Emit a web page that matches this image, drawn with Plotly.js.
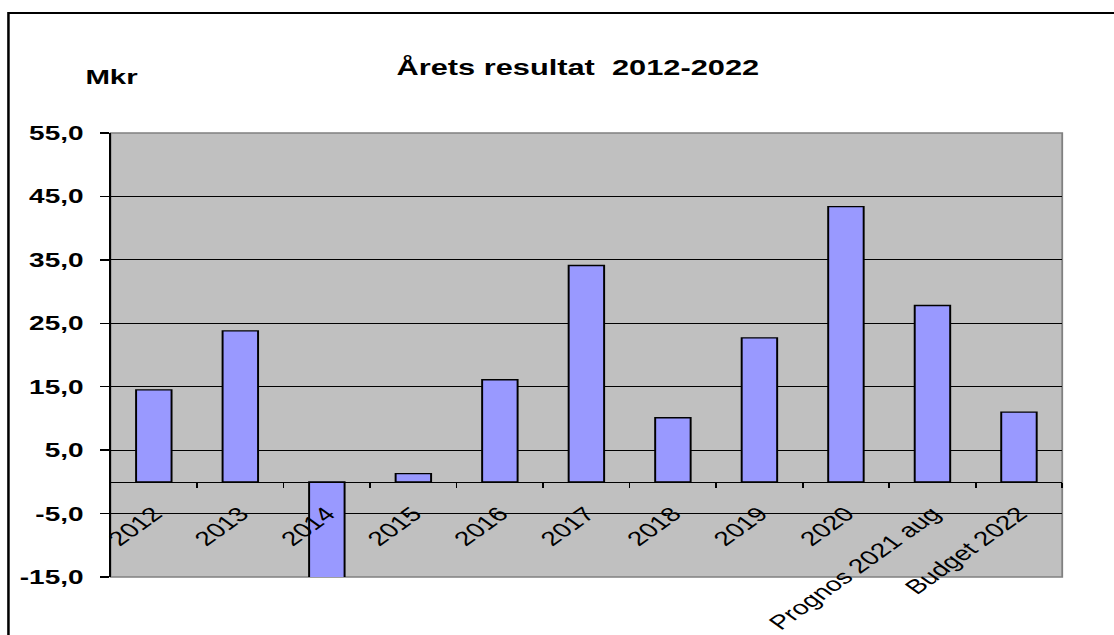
<!DOCTYPE html>
<html>
<head>
<meta charset="utf-8">
<script src="https://cdn.plot.ly/plotly-3.0.1.min.js"></script>
<style>
html,body{margin:0;padding:0;background:#fff;overflow:hidden;}
#wrap{width:1114px;height:635px;overflow:hidden;}
#chart{width:796px;height:635px;transform:scaleX(1.3995);transform-origin:0 0;}
</style>
</head>
<body>
<div id="wrap"><div id="chart"></div></div>
<script>
const categories = ["2012","2013","2014","2015","2016","2017","2018","2019","2020","Prognos 2021 aug","Budget 2022"];
const results = [14.5, 23.8, -19.0, 1.3, 16.1, 34.1, 10.1, 22.7, 43.4, 27.8, 11.0];
const yTickVals = [-15, -5, 5, 15, 25, 35, 45, 55];
const yTickText = ["-15,0", "-5,0", "5,0", "15,0", "25,0", "35,0", "45,0", "55,0"];
const yRange = [-15, 55];

const trace = {
  type: 'bar',
  x: categories,
  y: results,
  marker: {color: '#9999ff', line: {color: '#000000', width: 1.4}},
  width: 0.41,
  hoverinfo: 'x+y'
};

const zeroPos = (0 - yRange[0]) / (yRange[1] - yRange[0]);
const FONT = 'Liberation Sans, Arial, sans-serif';

const layout = {
  width: 796, height: 635,
  margin: {l: 79.3, r: 37.2, t: 133, b: 58},
  paper_bgcolor: '#ffffff',
  plot_bgcolor: '#c0c0c0',
  showlegend: false,
  title: {
    text: '<b>Årets resultat  2012-2022</b>',
    font: {family: FONT, size: 22, color: '#000'},
    x: 0.491, xanchor: 'center', y: 0.894, yanchor: 'middle', xref: 'paper'
  },
  xaxis: {
    type: 'category',
    anchor: 'free',
    position: zeroPos,
    showline: true, linecolor: '#000', linewidth: 1.5,
    showgrid: false, zeroline: false,
    ticks: 'outside', tickson: 'boundaries', ticklen: 5, tickcolor: '#000', tickwidth: 1.2,
    tickangle: -45,
    ticklabelstandoff: 11,
    tickfont: {family: FONT, size: 20, color: '#000'},
    fixedrange: true
  },
  yaxis: {
    range: yRange,
    tickmode: 'array',
    tickvals: yTickVals,
    ticktext: yTickText,
    showline: true, linecolor: '#000', linewidth: 1.3,
    showgrid: true, gridcolor: '#000', gridwidth: 1,
    zeroline: false,
    ticks: 'outside', ticklen: 6, tickcolor: '#000', tickwidth: 1.3,
    ticklabelstandoff: 8,
    tickfont: {family: FONT, size: 20, color: '#000', weight: 'bold'},
    fixedrange: true
  },
  shapes: [
    {type: 'rect', xref: 'paper', yref: 'paper', x0: 0, x1: 1, y0: 0, y1: 1,
     line: {color: '#808080', width: 1.3}, layer: 'below'},
    {type: 'rect', xref: 'paper', yref: 'paper', x0: -0.1073, x1: 1.2, y0: -0.3, y1: 1.2703,
     line: {color: '#000000', width: 1.8}, fillcolor: 'rgba(0,0,0,0)', layer: 'above'}
  ],
  annotations: [
    {text: '<b>Mkr</b>', xref: 'paper', yref: 'paper', x: 0.0, y: 1.128,
     xanchor: 'center', yanchor: 'middle', showarrow: false,
     font: {family: FONT, size: 21, color: '#000'}}
  ]
};

Plotly.newPlot('chart', [trace], layout, {displayModeBar: false, staticPlot: true});
</script>
</body>
</html>
